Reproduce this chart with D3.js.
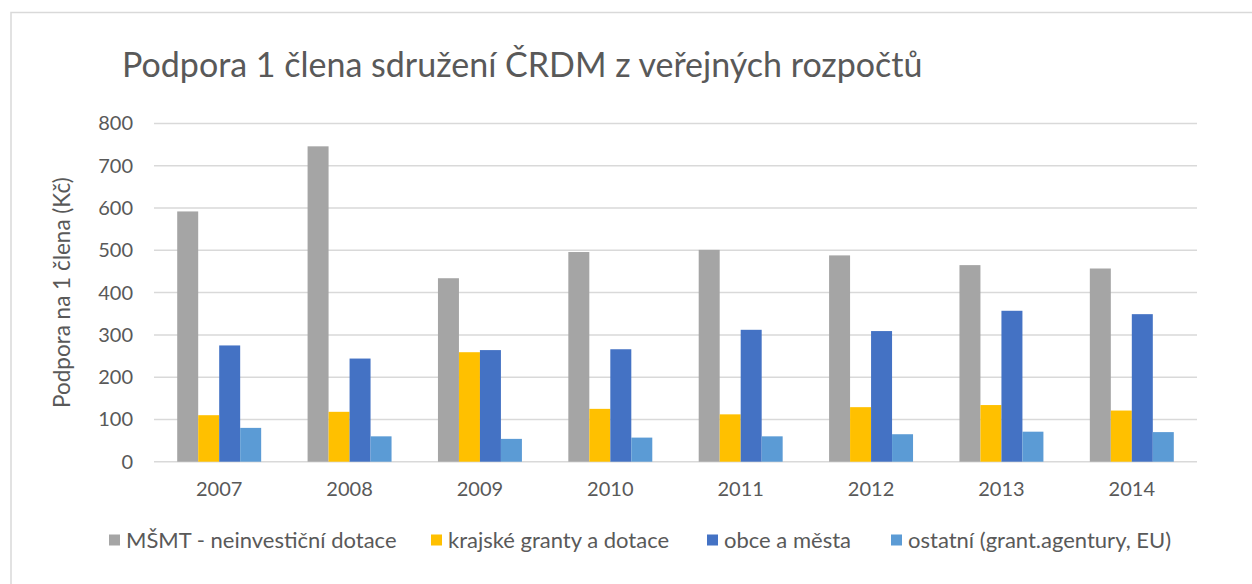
<!DOCTYPE html>
<html>
<head>
<meta charset="utf-8">
<script src="https://cdn.jsdelivr.net/npm/d3@7"></script>
<style>
  body { margin: 0; background: #fff; }
  svg { display: block; font-family: Lato, "Open Sans", sans-serif; }
</style>
</head>
<body>
<svg id="chart" width="1252" height="584"></svg>
<script>
var years = ["2007", "2008", "2009", "2010", "2011", "2012", "2013", "2014"];
var seriesNames = ["MŠMT - neinvestiční dotace", "krajské granty a dotace", "obce a města", "ostatní (grant.agentury, EU)"];
var msmt = [592, 746, 434, 496, 501, 488, 465, 457];
var kraj = [110, 118, 259, 125, 112, 129, 134, 121];
var obce = [275, 244, 264, 266, 312, 309, 357, 349];
var ostatni = [80, 60, 54, 57, 60, 65, 71, 70];
var yTicks = [0, 100, 200, 300, 400, 500, 600, 700, 800];
var colors = ["#A5A5A5", "#FFC000", "#4472C4", "#5B9BD5"];

var allSeries = [msmt, kraj, obce, ostatni];

var svg = d3.select("#chart");
var textColor = "#595959";

// chart frame
svg.append("rect")
  .attr("x", 11).attr("y", 12.5)
  .attr("width", 1300).attr("height", 700)
  .attr("fill", "none")
  .attr("stroke", "#d9d9d9")
  .attr("stroke-width", 1.5);

var x = d3.scaleBand()
  .domain(years)
  .range([154, 1197])
  .paddingInner(0.356)
  .paddingOuter(0.178);

var xSub = d3.scaleBand()
  .domain(d3.range(seriesNames.length))
  .range([0, x.bandwidth()]);

var y = d3.scaleLinear()
  .domain([0, 800])
  .range([461.7, 123.5]);

// gridlines
svg.append("g").selectAll("line")
  .data(yTicks)
  .enter()
  .append("line")
  .attr("x1", 154).attr("x2", 1197)
  .attr("y1", function(d) { return y(d); })
  .attr("y2", function(d) { return y(d); })
  .attr("stroke", "#d9d9d9")
  .attr("stroke-width", 1.5);

// y axis
var yAxis = svg.append("g")
  .attr("transform", "translate(133,0)")
  .call(d3.axisLeft(y).tickValues(yTicks).tickSize(0).tickPadding(0));
yAxis.select(".domain").remove();
yAxis.selectAll("text")
  .attr("fill", textColor)
  .style("font-size", "20px")
  .style("font-family", "Lato, sans-serif");

// x axis
var xAxis = svg.append("g")
  .attr("transform", "translate(0,461.7)")
  .call(d3.axisBottom(x).tickSize(0).tickPadding(20));
xAxis.select(".domain").remove();
xAxis.selectAll("text")
  .attr("fill", textColor)
  .style("font-size", "20px")
  .style("font-family", "Lato, sans-serif");

// bars
var groups = svg.append("g").selectAll("g")
  .data(years)
  .enter()
  .append("g")
  .attr("transform", function(d) { return "translate(" + x(d) + ",0)"; });

groups.selectAll("rect")
  .data(function(d, i) {
    return allSeries.map(function(s, k) { return { k: k, v: s[i] }; });
  })
  .enter()
  .append("rect")
  .attr("x", function(d) { return xSub(d.k); })
  .attr("width", xSub.bandwidth())
  .attr("y", function(d) { return y(d.v); })
  .attr("height", function(d) { return y(0) - y(d.v); })
  .attr("fill", function(d) { return colors[d.k]; });

// title
svg.append("text")
  .attr("x", 122).attr("y", 77)
  .attr("fill", textColor)
  .style("font-size", "34px")
  .text("Podpora 1 člena sdružení ČRDM z veřejných rozpočtů");

// y axis title
svg.append("text")
  .attr("transform", "translate(70,292.6) rotate(-90)")
  .attr("text-anchor", "middle")
  .attr("fill", textColor)
  .style("font-size", "22.5px")
  .text("Podpora na 1 člena (Kč)");

// legend
var legendX = [109, 431, 707, 891];
var legend = svg.append("g").selectAll("g")
  .data(seriesNames)
  .enter()
  .append("g")
  .attr("transform", function(d, i) { return "translate(" + legendX[i] + ",540)"; });

legend.append("rect")
  .attr("x", 0).attr("y", -5.5)
  .attr("width", 11).attr("height", 11)
  .attr("fill", function(d, i) { return colors[i]; });

legend.append("text")
  .attr("x", 17).attr("y", 0)
  .attr("dy", "0.36em")
  .attr("fill", textColor)
  .style("font-size", "22px")
  .text(function(d) { return d; });
</script>
</body>
</html>
